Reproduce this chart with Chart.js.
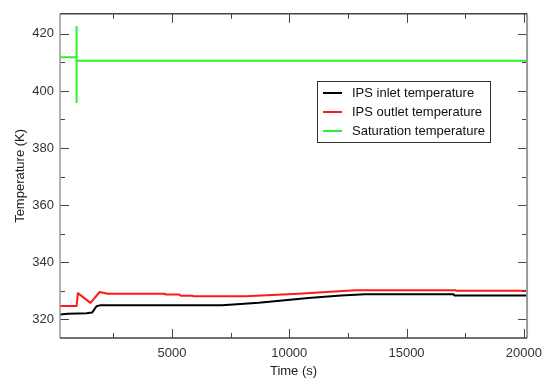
<!DOCTYPE html>
<html>
<head>
<meta charset="utf-8">
<script src="https://cdn.jsdelivr.net/npm/chart.js@4.4.1/dist/chart.umd.min.js"></script>
<style>
  html, body { margin: 0; padding: 0; background: #fff; }
  #wrap { position: relative; width: 550px; height: 381px; }
</style>
</head>
<body>
<div id="wrap"><canvas id="grafico" width="550" height="381"></canvas></div>
<script>
// valores (tempo em s, temperatura em K)
var tempoEntrada = [225, 563, 1356, 1593, 1780, 1962, 7140, 8699, 10817, 12215, 13232, 17003, 17050, 20140];
var tempEntrada  = [321.7, 322.0, 322.2, 322.4, 324.6, 325.0, 325.0, 325.8, 327.5, 328.4, 328.8, 328.8, 328.4, 328.4];

var tempoSaida = [225, 932, 987, 1525, 1919, 2258, 4674, 4750, 5309, 5380, 5860, 5930, 8148, 10393, 12809, 17087, 17150, 20140];
var tempSaida  = [324.7, 324.7, 329.2, 325.8, 329.6, 329.0, 329.0, 328.7, 328.7, 328.3, 328.3, 328.1, 328.1, 329.0, 330.2, 330.2, 330.0, 330.0];

var tempoSat = [225, 932, 932, 932, 932, 20140];
var tempSat  = [411.8, 411.8, 422.7, 395.8, 410.6, 410.6];

var series = ['IPS inlet temperature', 'IPS outlet temperature', 'Saturation temperature'];
var cores = ['#000000', '#ff1a1a', '#2ef02e'];

var ticksX = [5000, 10000, 15000, 20000];
var ticksXMenor = [2500, 7500, 12500, 17500];
var ticksY = [320, 340, 360, 380, 400, 420];
var ticksYMenor = [330, 350, 370, 390, 410];

function pontos(xs, ys) {
    return xs.map(function (x, i) { return { x: x, y: ys[i] }; });
}

function fixarTicks(lista) {
    return function (s) {
        s.ticks = lista.map(function (v) { return { value: v }; });
    };
}

var fonte = 'Liberation Sans, Arial, sans-serif';

var moldura = {
    id: 'moldura',
    afterDraw: function (chart) {
        var ctx = chart.ctx, a = chart.chartArea;
        var sx = chart.scales.x, sy = chart.scales.y;
        ctx.save();
        ctx.lineWidth = 1;
        ctx.strokeStyle = '#444';
        // ticks para dentro nos quatro lados
        function tickX(v, len) {
            var px = Math.round(sx.getPixelForValue(v)) + 0.5;
            ctx.beginPath();
            ctx.moveTo(px, a.bottom); ctx.lineTo(px, a.bottom - len);
            ctx.moveTo(px, a.top); ctx.lineTo(px, a.top + len);
            ctx.stroke();
        }
        function tickY(v, len) {
            var py = Math.round(sy.getPixelForValue(v)) + 0.5;
            ctx.beginPath();
            ctx.moveTo(a.left, py); ctx.lineTo(a.left + len, py);
            ctx.moveTo(a.right, py); ctx.lineTo(a.right - len, py);
            ctx.stroke();
        }
        ticksX.forEach(function (v) { tickX(v, 9); });
        ticksXMenor.forEach(function (v) { tickX(v, 5); });
        ticksY.forEach(function (v) { tickY(v, 9); });
        ticksYMenor.forEach(function (v) { tickY(v, 5); });

        // bordas
        ctx.lineWidth = 1.5;
        ctx.strokeStyle = '#999';
        ctx.beginPath();
        ctx.moveTo(a.left, a.top); ctx.lineTo(a.left, a.bottom);
        ctx.stroke();
        ctx.lineWidth = 2;
        ctx.beginPath();
        ctx.moveTo(a.right, a.top); ctx.lineTo(a.right, a.bottom);
        ctx.stroke();
        ctx.lineWidth = 1.5;
        ctx.strokeStyle = '#444';
        ctx.beginPath();
        ctx.moveTo(a.left, a.bottom); ctx.lineTo(a.right, a.bottom);
        ctx.moveTo(a.left, a.top); ctx.lineTo(a.right, a.top);
        ctx.stroke();

        // legenda dentro do grafico
        var lx = 317, ly = 81, lw = 173, lh = 61;
        ctx.fillStyle = '#fff';
        ctx.fillRect(lx, ly, lw, lh);
        ctx.lineWidth = 1;
        ctx.strokeStyle = '#333';
        ctx.strokeRect(lx + 0.5, ly + 0.5, lw, lh);
        ctx.font = '13px ' + fonte;
        ctx.textBaseline = 'middle';
        chart.data.datasets.forEach(function (ds, i) {
            var y = ly + 12 + i * 19;
            ctx.strokeStyle = ds.borderColor;
            ctx.lineWidth = 2;
            ctx.beginPath();
            ctx.moveTo(lx + 6, y); ctx.lineTo(lx + 25, y);
            ctx.stroke();
            ctx.fillStyle = '#111';
            ctx.fillText(ds.label, lx + 35, y);
        });
        ctx.restore();
    }
};

var ctx = document.getElementById('grafico').getContext('2d');
new Chart(ctx, {
    type: 'line',
    data: {
        datasets: [
            { label: series[0], data: pontos(tempoEntrada, tempEntrada), borderColor: cores[0], borderWidth: 2, borderJoinStyle: 'round', pointRadius: 0, fill: false },
            { label: series[1], data: pontos(tempoSaida, tempSaida), borderColor: cores[1], borderWidth: 2, borderJoinStyle: 'round', pointRadius: 0, fill: false },
            { label: series[2], data: pontos(tempoSat, tempSat), borderColor: cores[2], borderWidth: 2, borderJoinStyle: 'bevel', pointRadius: 0, fill: false }
        ]
    },
    options: {
        responsive: false,
        animation: false,
        layout: { padding: { top: 10, right: 20, left: 0, bottom: 0 } },
        plugins: { legend: { display: false }, tooltip: { enabled: false } },
        scales: {
            x: {
                type: 'linear',
                min: 225,
                max: 20140,
                grid: { display: false, drawTicks: false },
                border: { display: false },
                afterBuildTicks: fixarTicks(ticksX),
                afterFit: function (s) { s.height = 43; },
                ticks: {
                    padding: 8,
                    maxRotation: 0,
                    autoSkip: false,
                    color: '#333',
                    font: { family: fonte, size: 13 },
                    callback: function (v) { return String(v); }
                },
                title: {
                    display: true,
                    text: 'Time (s)',
                    color: '#222',
                    padding: { top: 0, bottom: 2 },
                    font: { family: fonte, size: 13 }
                }
            },
            y: {
                min: 313.5,
                max: 427,
                grid: { display: false, drawTicks: false },
                border: { display: false },
                afterBuildTicks: fixarTicks(ticksY),
                afterFit: function (s) { s.width = 60; },
                ticks: {
                    padding: 6,
                    autoSkip: false,
                    color: '#333',
                    font: { family: fonte, size: 13 },
                    callback: function (v) { return String(v); }
                },
                title: {
                    display: true,
                    text: 'Temperature (K)',
                    color: '#222',
                    padding: { top: 13, bottom: 0 },
                    font: { family: fonte, size: 13 }
                }
            }
        }
    },
    plugins: [moldura]
});
</script>
</body>
</html>
